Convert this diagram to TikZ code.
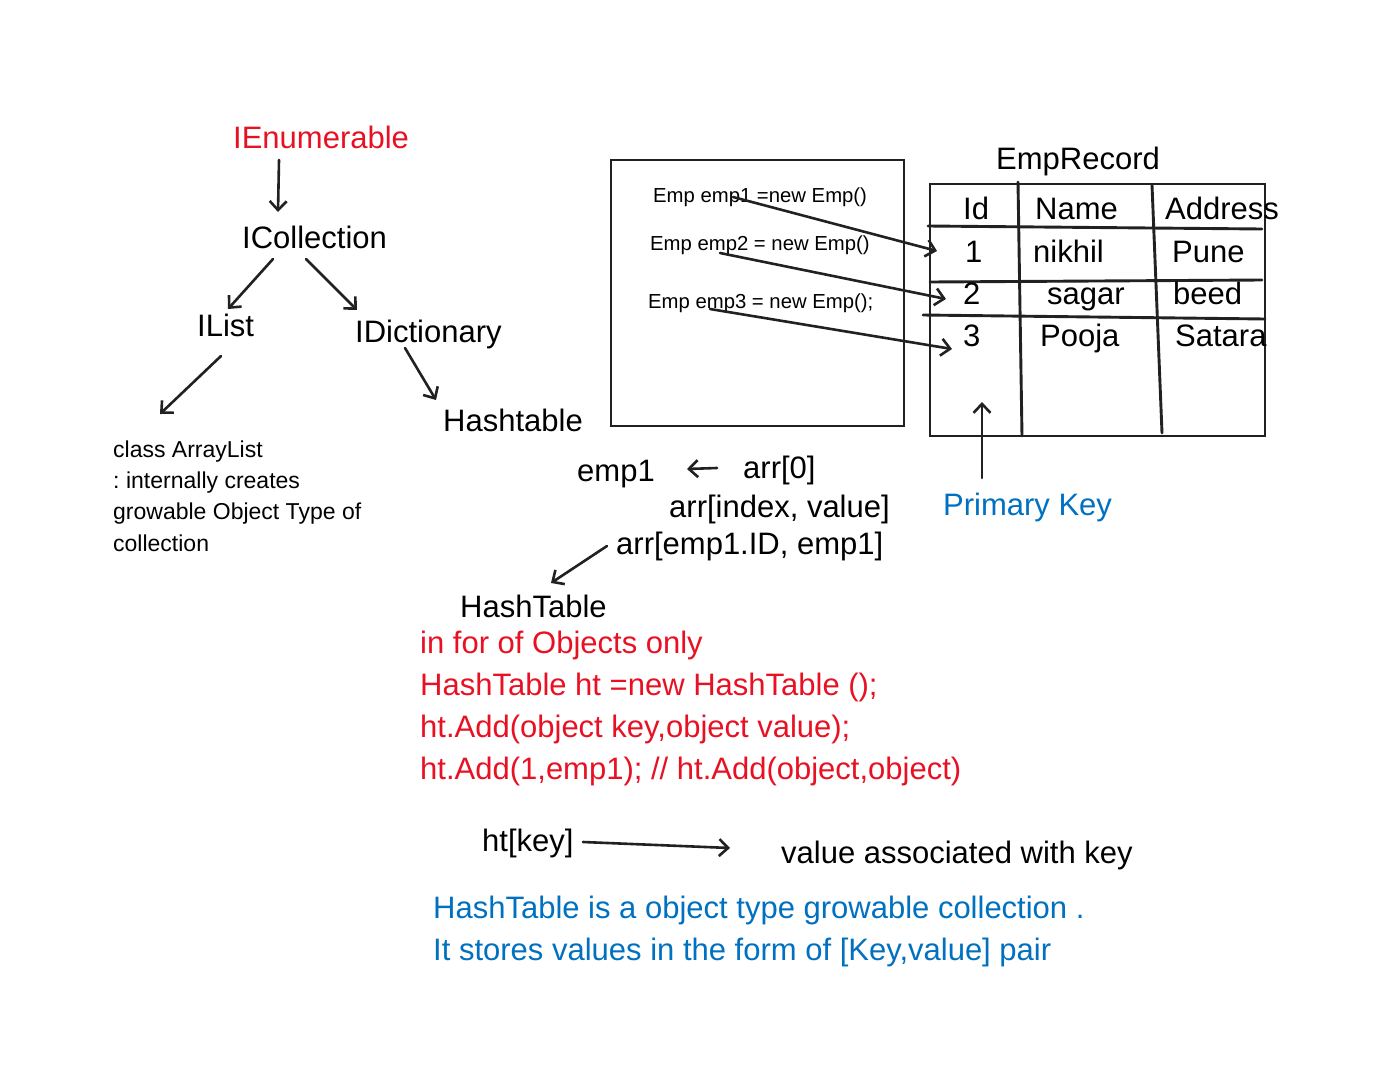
\documentclass[tikz,border=0pt]{standalone}
\usepackage{fontspec}
\setmainfont{Liberation Sans}
\usepackage{xcolor}
\usepackage{tikz}
\usetikzlibrary{arrows.meta}
\definecolor{hlred}{RGB}{232,17,35}
\definecolor{hlblue}{RGB}{0,112,192}
\tikzset{
    txt/.style = {inner sep=0pt, anchor=base west, font=\fontsize{31}{36}\selectfont},
    redtxt/.style = {txt, text=hlred},
    bluetxt/.style = {txt, text=hlblue},
    codetxt/.style = {inner sep=0pt, anchor=base west, font=\fontsize{20.3}{24}\selectfont},
    notetxt/.style = {inner sep=0pt, anchor=base west, font=\fontsize{23}{28}\selectfont},
}

\begin{document}
\begin{tikzpicture}[
    x=1pt, y=-1pt,
    line cap=round
]
\tikzset{
    arr/.style = {-{Straight Barb[length=9pt,width=17pt,line width=2.6pt]}, line width=2.6pt, draw=black!87},
    rule/.style = {line width=2.9pt, draw=black!87}
}
\useasboundingbox (0,0) rectangle (1392,1084);
% interface tree
\node[redtxt] (ienum) at (233,148) {IEnumerable};
\node[txt] (icoll) at (242,248) {ICollection};
\node[txt] (ilist) at (197,336) {IList};
\node[txt] (idict) at (355,342) {IDictionary};
\node[txt] (htab) at (443,431) {Hashtable};
\node[notetxt] (note1) at (113,457) {class ArrayList};
\node[notetxt] (note2) at (113,488) {:\kern-2pt{} internally creates};
\node[notetxt] (note3) at (113,519) {growable Object Type of};
\node[notetxt] (note4) at (113,551) {collection};
\coordinate (ea) at (279,160); \coordinate (eb) at (278,212);
\coordinate (ca) at (273,259); \coordinate (cb) at (228,309);
\coordinate (cc) at (306,259); \coordinate (cd) at (357,310);
\coordinate (la) at (221,356); \coordinate (lb) at (160,414);
\coordinate (da) at (405,348); \coordinate (db) at (436,400);
\draw[arr] (ea) -- (eb);
\draw[arr] (ca) -- (cb);
\draw[arr] (cc) -- (cd);
\draw[arr] (la) -- (lb);
\draw[arr] (da) -- (db);
% object box
\draw[rule] (611,160) rectangle (904,426);
\node[codetxt] (emp1) at (653,202) {Emp emp1 =new Emp()};
\node[codetxt] (emp2) at (650,250) {Emp emp2 = new Emp()};
\node[codetxt] (emp3) at (648,308) {Emp emp3 = new Emp();};
% record table
\node[txt] (rec) at (996,169) {EmpRecord};
\draw[rule] (930,184) rectangle (1265,436);
\draw[rule] (1018,182) -- (1022,436);
\draw[rule] (1152,185) -- (1162,433);
\draw[rule] (928,226) -- (1262,229);
\draw[rule] (930,282) -- (1262,280);
\draw[rule] (923,315) -- (1265,319);
\node[txt] (hid) at (963,219) {Id};
\node[txt] (hname) at (1035,219) {Name};
\node[txt] (haddr) at (1165,219) {Address};
\node[txt] (id1) at (965,262) {1};
\node[txt] (name1) at (1033,262) {nikhil};
\node[txt] (addr1) at (1172,262) {Pune};
\node[txt] (id2) at (963,304) {2};
\node[txt] (name2) at (1047,304) {sagar};
\node[txt] (addr2) at (1173,304) {beed};
\node[txt] (id3) at (963,346) {3};
\node[txt] (name3) at (1040,346) {Pooja};
\node[txt] (addr3) at (1175,346) {Satara};
\coordinate (e1) at (733,197); \coordinate (e2) at (720,253); \coordinate (e3) at (710,309);
\draw[arr] (e1) -- (937,251);
\draw[arr] (e2) -- (946,299);
\draw[arr] (e3) -- (952,349);
\node[bluetxt] (pkey) at (943,515) {Primary Key};
\coordinate (pa) at (982,478); \coordinate (pb) at (982,402);
\draw[arr] (pa) -- (pb);
% array notes
\node[txt] (emp) at (577,481) {emp1};
\node[txt] (arr0) at (743,478) {arr[0]};
\node[txt] (arri) at (669,517) {arr[index, value]};
\node[txt] (arre) at (616,554) {arr[emp1.ID, emp1]};
\coordinate (aa) at (717,468); \coordinate (ab) at (687,469);
\draw[arr] (aa) -- (ab);
\coordinate (ha) at (607,546); \coordinate (hb) at (551,583);
\draw[arr] (ha) -- (hb);
\node[txt] (htable) at (460,617) {HashTable};
% code lines
\node[redtxt] (r1) at (420,653) {in for of Objects only};
\node[redtxt] (r2) at (420,695) {HashTable ht =new HashTable ();};
\node[redtxt] (r3) at (420,737) {ht.Add(object key,object value);};
\node[redtxt] (r4) at (420,779) {ht.Add(1,emp1); // ht.Add(object,object)};
\node[txt] (htkey) at (482,851) {ht[key]};
\node[txt] (vkey) at (781,863) {value associated with key};
\coordinate (ka) at (583,842); \coordinate (kb) at (730,848);
\draw[arr] (ka) -- (kb);
\node[bluetxt] (b1) at (433,918) {HashTable is a object type growable collection .};
\node[bluetxt] (b2) at (433,960) {It stores values in the form of [Key,value] pair};
\end{tikzpicture}
\end{document}
